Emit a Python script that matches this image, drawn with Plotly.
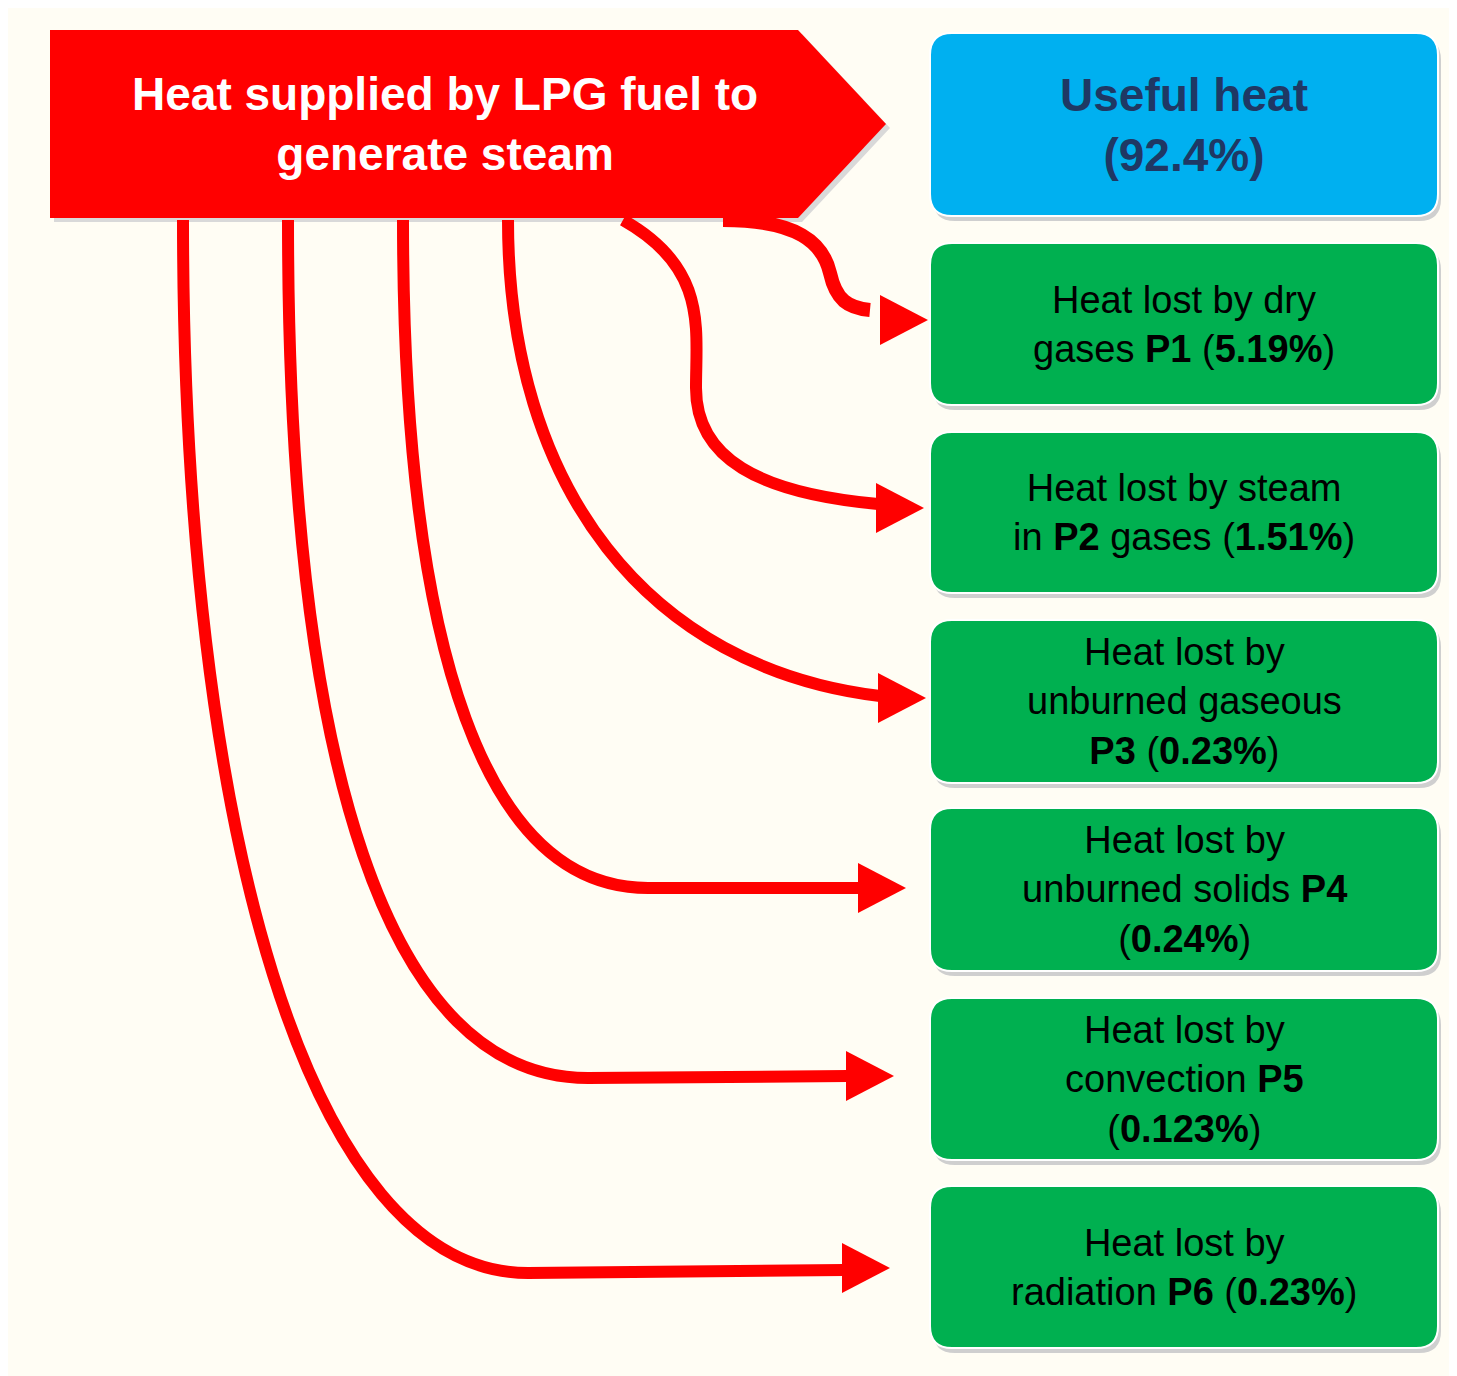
import plotly.graph_objects as go

source_label = "Heat supplied by LPG fuel to<br>generate steam"
useful_label = "Useful heat<br>(92.4%)"
loss_texts = [
    "Heat lost by dry<br>gases <b>P1</b> (<b>5.19%</b>)",
    "Heat lost by steam<br>in <b>P2</b> gases (<b>1.51%</b>)",
    "Heat lost by<br>unburned gaseous<br><b>P3</b> (<b>0.23%</b>)",
    "Heat lost by<br>unburned solids <b>P4</b><br>(<b>0.24%</b>)",
    "Heat lost by<br>convection <b>P5</b><br>(<b>0.123%</b>)",
    "Heat lost by<br>radiation <b>P6</b> (<b>0.23%</b>)",
]

W, H = 1457, 1376
fig = go.Figure()
shapes = []
annotations = []

def rrect(x0, y0, x1, y1, r):
    return (f"M{x0+r},{y0} L{x1-r},{y0} Q{x1},{y0} {x1},{y0+r} L{x1},{y1-r} "
            f"Q{x1},{y1} {x1-r},{y1} L{x0+r},{y1} Q{x0},{y1} {x0},{y1-r} "
            f"L{x0},{y0+r} Q{x0},{y0} {x0+r},{y0} Z")

# source arrow
shapes.append(dict(type="path", path="M46,26 L794,26 L882,120 L794,214 L46,214 Z",
                   fillcolor="#d9d9d9", line=dict(width=0)))
shapes.append(dict(type="path", path="M42,22 L790,22 L878,116 L790,210 L42,210 Z",
                   fillcolor="#ff0000", line=dict(width=0)))
annotations.append(dict(x=437, y=116, text=f"<b>{source_label}</b>", showarrow=False,
                        font=dict(family="Liberation Sans, Arial", size=46, color="white")))

box_x0, box_x1 = 922, 1430
boxes = [(25, 208)] + [(235, 397), (424, 585), (612, 775), (800, 963), (990, 1152), (1178, 1340)]
colors = ["#00b0f0"] + ["#00b050"] * 6
texts = [f"<b>{useful_label}</b>"] + loss_texts
for (y0, y1), c, t in zip(boxes, colors, texts):
    shapes.append(dict(type="path", path=rrect(box_x0 + 3, y0 + 5, box_x1 + 3, y1 + 5, 22),
                       fillcolor="#cfcfcf", line=dict(width=0)))
    shapes.append(dict(type="path", path=rrect(box_x0, y0, box_x1, y1, 22),
                       fillcolor=c, line=dict(color="white", width=2)))
    col = "#1f3864" if c == "#00b0f0" else "black"
    sz = 46 if c == "#00b0f0" else 38
    annotations.append(dict(x=(box_x0 + box_x1) / 2, y=(y0 + y1) / 2, text=t, showarrow=False,
                            font=dict(family="Liberation Sans, Arial", size=sz, color=col)))

curves = [
    ("M715,212 C790,212 815,235 822,265 C828,292 840,300 862,302", (920, 312), 14),
    ("M615,212 C700,260 688,320 688,380 C688,450 750,485 870,496", (916, 500), 12),
    ("M500,212 C500,480 640,660 872,688", (918, 690), 12),
    ("M395,212 C395,650 480,880 640,880 L852,880", (898, 880), 12),
    ("M280,212 C280,760 380,1070 580,1070 L840,1068", (886, 1068), 12),
    ("M175,212 C175,820 300,1265 520,1265 L836,1262", (882, 1260), 12),
]
for p, (tx, ty), w in curves:
    shapes.append(dict(type="path", path=p, line=dict(color="#ff0000", width=w)))
    shapes.append(dict(type="path", path=f"M{tx},{ty} L{tx-48},{ty-25} L{tx-48},{ty+25} Z",
                       fillcolor="#ff0000", line=dict(width=0)))

fig.update_layout(width=W, height=H, margin=dict(l=0, r=0, t=0, b=0),
                  paper_bgcolor="#fffdf4", plot_bgcolor="#fffdf4",
                  shapes=shapes, annotations=annotations, showlegend=False,
                  xaxis=dict(range=[0, W], visible=False, fixedrange=True),
                  yaxis=dict(range=[H, 0], visible=False, fixedrange=True))
fig.write_html("out.html")
